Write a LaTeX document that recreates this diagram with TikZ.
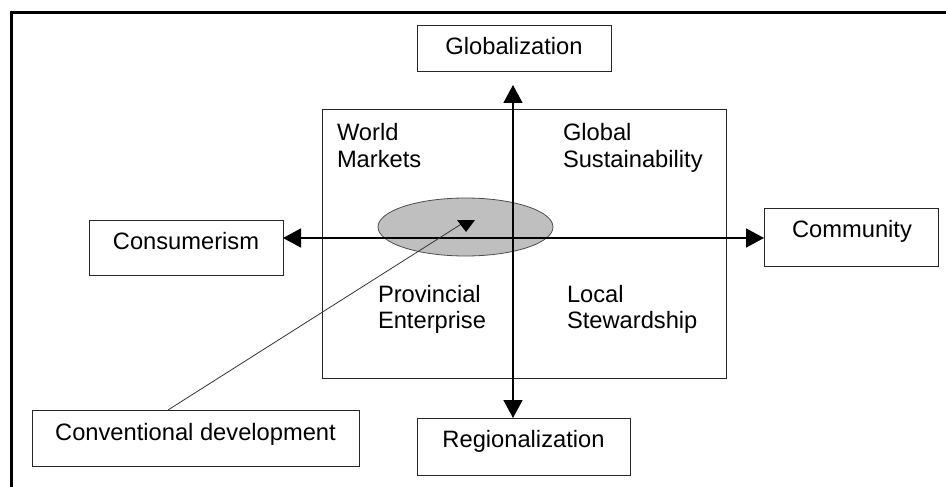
\documentclass[tikz,border=0pt]{standalone}
\usepackage{fontspec}
\setmainfont{Liberation Sans}
\usetikzlibrary{arrows.meta,shapes.geometric}
\begin{document}
\begin{tikzpicture}[x=1pt,y=-1pt,
  box/.style={draw=black!85, line width=0.9pt, rectangle, anchor=north west, inner sep=0pt, outer sep=0pt},
  lbl/.style={inner sep=0pt, outer sep=0pt, font=\fontsize{23.7}{27}\selectfont},
  axis/.style={line width=1.6pt, {Triangle[length=18pt,width=19pt]}-{Triangle[length=18pt,width=19pt]}},
  thinline/.style={draw=black!80, line width=0.8pt}
]
\useasboundingbox (0,0) rectangle (946,487);
% frame
\draw[line width=3pt, line join=miter] (11.5,487) -- (11.5,12.5) -- (946,12.5);

% inner square
\node[box, minimum width=404pt, minimum height=269pt] (quad) at (322,109) {};

% ellipse
\node[ellipse, draw=black!70, line width=0.8pt, fill=black!25, minimum width=175pt, minimum height=58pt, inner sep=0pt] (ell) at (465.5,227) {};

% outer boxes
\node[box, minimum width=194pt, minimum height=46pt] (glob) at (417,25) {};
\node[box, minimum width=194pt, minimum height=55pt] (cons) at (89,220) {};
\node[box, minimum width=174pt, minimum height=58pt] (comm) at (764,208) {};
\node[box, minimum width=327pt, minimum height=56pt] (conv) at (32,410) {};
\node[box, minimum width=213pt, minimum height=57pt] (reg) at (417,418) {};

% box labels
\node[lbl, anchor=base] (globT) at (514,55) {Globalization};
\node[lbl, anchor=base] (consT) at (186,249) {Consumerism};
\node[lbl, anchor=base] (commT) at (852,237) {Community};
\node[lbl, anchor=base] (convT) at (195.5,440) {Conventional development};
\node[lbl, anchor=base] (regT) at (523.5,447) {Regionalization};

% quadrant labels
\node[lbl, anchor=base west] (wm1) at (337,140) {World};
\node[lbl, anchor=base west] (wm2) at (337,167) {Markets};
\node[lbl, anchor=base west] (gs1) at (563,140) {Global};
\node[lbl, anchor=base west] (gs2) at (563,167) {Sustainability};
\node[lbl, anchor=base west] (pe1) at (378,302) {Provincial};
\node[lbl, anchor=base west] (pe2) at (378,328) {Enterprise};
\node[lbl, anchor=base west] (ls1) at (567,302) {Local};
\node[lbl, anchor=base west] (ls2) at (567,328) {Stewardship};

% axes
\coordinate (hax) at (0,238);
\coordinate (vax) at (513,0);
\draw[axis] (cons.east |- hax) -- (comm.west |- hax);
\draw[axis, shorten <=14pt] (glob.south -| vax) -- (reg.north -| vax);

% pointer from conventional development
\coordinate (convTop) at (168,410);
\coordinate (tip) at (463,223);
\draw[thinline] (convTop) -- (tip);
\fill[black] (457,220) -- (475,220) -- (466,232) -- cycle;
\end{tikzpicture}
\end{document}
